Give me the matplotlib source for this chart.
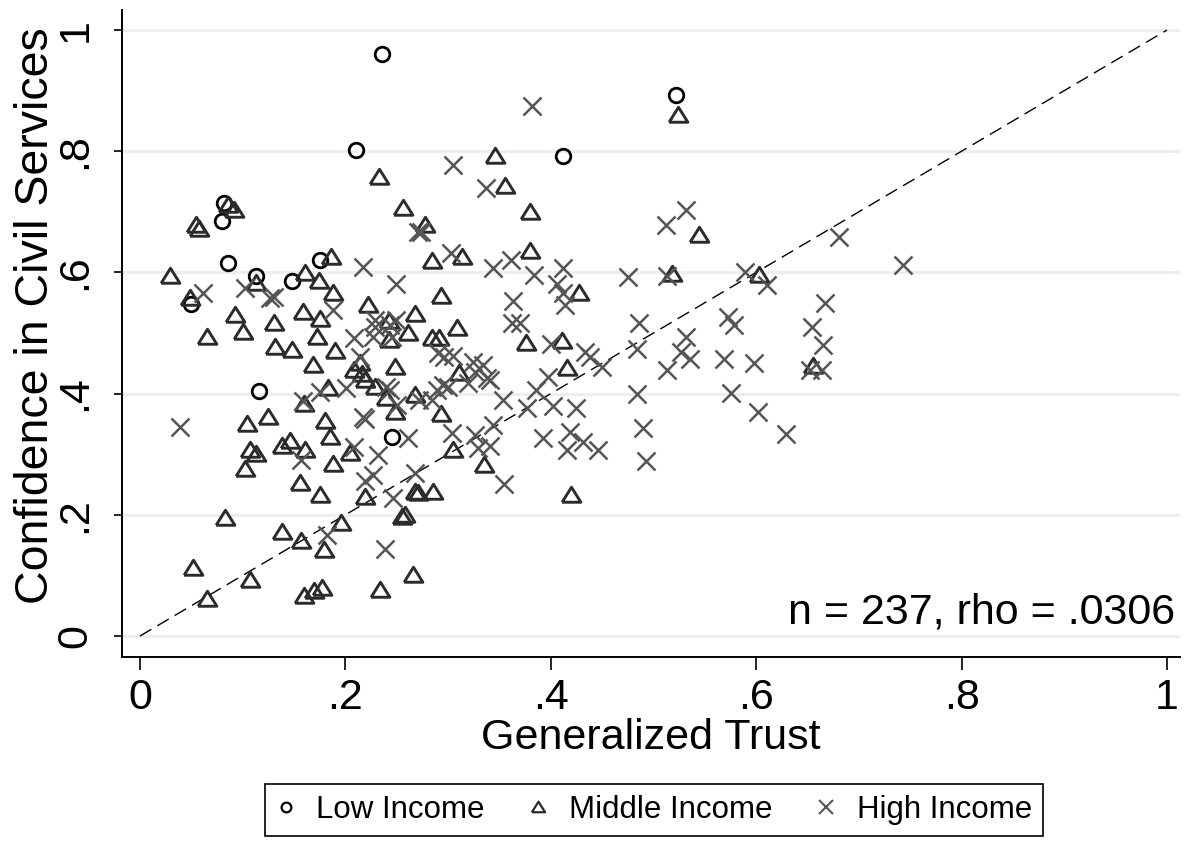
import matplotlib
matplotlib.use("Agg")
import matplotlib.pyplot as plt
from matplotlib.lines import Line2D

plt.rcParams['font.family'] = ['Liberation Sans', 'DejaVu Sans']

# ---------------- data ----------------
low_x = [0.236, 0.210, 0.522, 0.412, 0.082, 0.080, 0.086, 0.113, 0.148, 0.175, 0.050, 0.116, 0.245]
low_y = [0.960, 0.802, 0.893, 0.792, 0.715, 0.685, 0.616, 0.594, 0.585, 0.620, 0.548, 0.405, 0.329]

mid_x = [0.233, 0.256, 0.086, 0.092, 0.055, 0.057, 0.029, 0.113, 0.186, 0.161, 0.174, 0.188, 0.049,
         0.0925, 0.130, 0.159, 0.175, 0.222, 0.242, 0.268, 0.0656, 0.1006, 0.131, 0.148, 0.172, 0.190,
         0.168, 0.214, 0.208, 0.248, 0.219, 0.229, 0.240, 0.248, 0.268, 0.183, 0.160, 0.125, 0.1045,
         0.180, 0.185, 0.107, 0.113, 0.1386, 0.146, 0.161, 0.2045, 0.102, 0.1876, 0.156, 0.175, 0.219,
         0.268, 0.258, 0.255, 0.0828, 0.138, 0.157, 0.196, 0.179, 0.0513, 0.107, 0.2655, 0.065, 0.160,
         0.169, 0.177, 0.234, 0.524, 0.346, 0.355, 0.380, 0.544, 0.2775, 0.314, 0.284, 0.380, 0.427,
         0.518, 0.2928, 0.309, 0.261, 0.284, 0.291, 0.376, 0.411, 0.416, 0.311, 0.2928, 0.305, 0.335,
         0.271, 0.2856, 0.4194, 0.603, 0.655, 0.242, 0.216]
mid_y = [0.758, 0.707, 0.712, 0.703, 0.678, 0.672, 0.594, 0.582, 0.625, 0.599, 0.586, 0.566, 0.557,
         0.530, 0.517, 0.535, 0.523, 0.546, 0.519, 0.532, 0.494, 0.502, 0.477, 0.472, 0.494, 0.471,
         0.447, 0.450, 0.439, 0.444, 0.422, 0.411, 0.392, 0.370, 0.398, 0.409, 0.383, 0.361, 0.350,
         0.354, 0.329, 0.307, 0.300, 0.3135, 0.321, 0.307, 0.3015, 0.2755, 0.284, 0.252, 0.233, 0.230,
         0.238, 0.200, 0.197, 0.195, 0.172, 0.156, 0.186, 0.142, 0.112, 0.0924, 0.1007, 0.0605, 0.066,
         0.075, 0.079, 0.076, 0.860, 0.792, 0.743, 0.700, 0.662, 0.678, 0.625, 0.619, 0.636, 0.5655,
         0.597, 0.561, 0.508, 0.500, 0.491, 0.491, 0.483, 0.487, 0.442, 0.4335, 0.366, 0.307, 0.282,
         0.2355, 0.238, 0.2327, 0.596, 0.4455, 0.488, 0.433]

high_x = [0.039, 0.0617, 0.102, 0.127, 0.130, 0.188, 0.217, 0.249, 0.271, 0.229, 0.249, 0.208, 0.227,
          0.229, 0.243, 0.245, 0.214, 0.240, 0.250, 0.243, 0.201, 0.175, 0.159, 0.2175, 0.219, 0.261,
          0.157, 0.208, 0.232, 0.227, 0.219, 0.2467, 0.182, 0.2386,
          0.382, 0.3045, 0.337, 0.512, 0.532, 0.274, 0.303, 0.3435, 0.361, 0.3836, 0.412, 0.406, 0.412,
          0.414, 0.4755, 0.513, 0.3635, 0.362, 0.370, 0.486, 0.400, 0.4835, 0.532, 0.527, 0.5355, 0.433,
          0.438, 0.4495, 0.513, 0.2905, 0.305, 0.296, 0.3337, 0.3375, 0.341, 0.3197, 0.295, 0.289,
          0.3976, 0.284, 0.353, 0.3856, 0.3765, 0.4018, 0.4245, 0.4835, 0.3035, 0.326, 0.3295, 0.341,
          0.344, 0.392, 0.4187, 0.416, 0.4317, 0.4463, 0.4895, 0.4927, 0.268, 0.3544,
          0.681, 0.743, 0.589, 0.611, 0.667, 0.573, 0.578, 0.654, 0.665, 0.5687, 0.598, 0.652, 0.664,
          0.575, 0.602, 0.6287, 0.326, 0.272, 0.300, 0.3245]
high_y = [0.345, 0.566, 0.574, 0.558, 0.560, 0.538, 0.609, 0.581, 0.667, 0.521, 0.521, 0.491, 0.494,
          0.510, 0.513, 0.494, 0.461, 0.411, 0.381, 0.406, 0.409, 0.403, 0.387, 0.362, 0.358, 0.326,
          0.290, 0.312, 0.299, 0.266, 0.255, 0.227, 0.167, 0.143,
          0.875, 0.778, 0.740, 0.678, 0.703, 0.666, 0.632, 0.608, 0.620, 0.596, 0.607, 0.581, 0.5655,
          0.546, 0.593, 0.594, 0.552, 0.516, 0.517, 0.516, 0.482, 0.473, 0.494, 0.469, 0.4566, 0.469,
          0.461, 0.444, 0.439, 0.4665, 0.462, 0.460, 0.447, 0.425, 0.4224, 0.417, 0.414, 0.406,
          0.427, 0.389, 0.389, 0.406, 0.377, 0.3795, 0.377, 0.400, 0.3355, 0.332, 0.310, 0.3135,
          0.348, 0.326, 0.337, 0.307, 0.3206, 0.307, 0.3426, 0.289, 0.2684, 0.251,
          0.658, 0.612, 0.601, 0.579, 0.549, 0.527, 0.513, 0.510, 0.481, 0.4566, 0.451, 0.439, 0.439,
          0.4017, 0.370, 0.333, 0.436, 0.390, 0.4117, 0.4527]

ticks = [0, 0.2, 0.4, 0.6, 0.8, 1.0]
tick_labels = ["0", ".2", ".4", ".6", ".8", "1"]
ref_line = [0, 1]
annotation = "n = 237, rho = .0306"
legend_labels = ["Low Income", "Middle Income", "High Income"]

# ---------------- style ----------------
c_low = "#000000"
c_mid = "#2b2b2b"
c_high = "#555555"
grid_c = "#e8f0f2"
tri = [(-1, -0.72), (1, -0.72), (0, 0.88), (-1, -0.72)]

fig = plt.figure(figsize=(11.88, 8.42), dpi=100)
ax = fig.add_axes([122/1188, 1 - 657/842, (1180-122)/1188, (657-10)/842])

ax.set_xlim((122-140)/1027, (1180-140)/1027)
ax.set_ylim((636-657)/606, (636-10)/606)

for t in ticks:
    ax.axhline(t, color=grid_c, lw=2.2, zorder=0)

ax.plot(ref_line, ref_line, color="black", lw=1.0, dashes=(9.5, 5), zorder=1)

ax.plot(low_x, low_y, ls="none", marker="o", ms=10.5, mfc="none", mec=c_low, mew=2.0, zorder=3)
ax.plot(mid_x, mid_y, ls="none", marker=tri, ms=13.5, mfc="none", mec=c_mid, mew=2.1, zorder=3)
ax.plot(high_x, high_y, ls="none", marker="x", ms=13.5, mec=c_high, mew=1.8, zorder=3)

for s in ["top", "right"]:
    ax.spines[s].set_visible(False)
ax.spines["left"].set_linewidth(1.4)
ax.spines["bottom"].set_linewidth(1.4)

ax.set_xticks(ticks)
ax.set_xticklabels(tick_labels, fontsize=31)
ax.set_yticks(ticks)
ax.set_yticklabels(tick_labels, fontsize=31, rotation=90, va="center")
ax.tick_params(axis="x", length=9, width=1.2, pad=6)
ax.tick_params(axis="y", length=6, width=1.2, pad=13)

ax.set_xlabel("Generalized Trust", fontsize=31, labelpad=0)
ax.set_ylabel("Confidence in Civil Services", fontsize=33.5, labelpad=-2)
ax.yaxis.label.set_position((0, 0.528))

ax.text((1175-140)/1027, 0.005, annotation, ha="right", va="bottom", fontsize=31)

handles = [
    Line2D([], [], ls="none", marker="o", ms=7, mfc="none", mec=c_low, mew=1.6),
    Line2D([], [], ls="none", marker=tri, ms=9.5, mfc="none", mec=c_mid, mew=1.6),
    Line2D([], [], ls="none", marker="x", ms=9.5, mec=c_high, mew=1.5),
]
leg = fig.legend(handles, legend_labels, loc="center", bbox_to_anchor=(654/1188, 1 - 810/842),
                 ncol=3, fontsize=22.5, frameon=True, fancybox=False, edgecolor="black",
                 framealpha=1, borderpad=0.35, handletextpad=0.69, columnspacing=1.4,
                 handlelength=0.6)
leg.get_frame().set_linewidth(1.2)

fig.savefig("out.png", dpi=100, facecolor="white")
